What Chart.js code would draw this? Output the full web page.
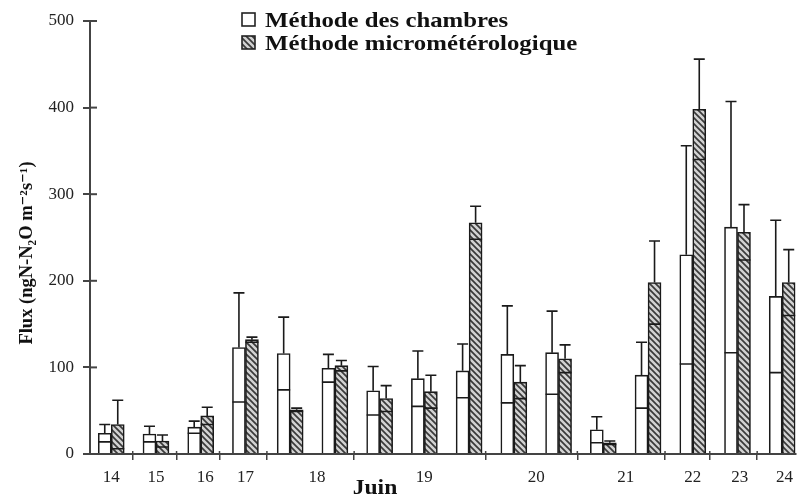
<!DOCTYPE html>
<html lang="fr">
<head>
<meta charset="utf-8">
<title>Flux de N2O - Juin</title>
<script src="https://cdn.jsdelivr.net/npm/chart.js@4.4.0/dist/chart.umd.min.js"></script>
<style>
    html, body { margin: 0; padding: 0; background: #fff; overflow: hidden; }
    #cadre { width: 798px; height: 498px; }
</style>
</head>
<body>
<div id="cadre"><canvas id="flux-chart" width="798" height="498"></canvas></div>
<script>
// indices des mesures (une paire de barres par mesure)
const mesures = [0, 1, 2, 3, 4, 5, 6, 7, 8, 9, 10, 11, 12, 13, 14, 15];

// méthode des chambres : moyenne et écart
const chambres    = [24, 23, 31, 123, 116, 99, 73, 87, 96, 115, 117, 28, 91, 230, 262, 182];
const chambresErr = [10, 9, 7, 63, 42, 16, 28, 32, 31, 56, 48, 15, 38, 126, 145, 88];

// méthode micrométéorologique : moyenne et écart
const micro    = [34, 15, 44, 132, 51, 102, 64, 72, 267, 83, 110, 13, 198, 398, 256, 198];
const microErr = [28, 7, 10, 3, 2, 6, 15, 19, 19, 19, 16, 2, 48, 58, 32, 38];

// jours de juin : étiquettes, centres et limites (en indice de mesure)
const jours        = ['14', '15', '16', '17', '18', '19', '20', '21', '22', '23', '24'];
const joursCentres = [0, 1, 2.1, 3, 4.6, 7, 9.5, 11.5, 13, 14.05, 15.05];
const joursLimites = [0.48, 1.46, 2.42, 3.48, 5.43, 8.37, 10.42, 12.38, 13.38, 14.44];

// graduations de l'axe des flux
const fluxTicks = [0, 100, 200, 300, 400, 500];

const titreX = 'Juin';
const titreY = 'Flux (ngN-N\u2082O m\u207B\u00B2s\u207B\u00B9)';
const serif = "'Liberation Serif', 'DejaVu Serif', serif";

// motif hachuré pour la méthode micrométéorologique
function creerHachures(ctx) {
    const tuile = document.createElement('canvas');
    tuile.width = 6;
    tuile.height = 6;
    const g = tuile.getContext('2d');
    g.fillStyle = '#d2d2d2';
    g.fillRect(0, 0, 6, 6);
    g.strokeStyle = '#3a3a3a';
    g.lineWidth = 1.7;
    g.beginPath();
    g.moveTo(-1, -1); g.lineTo(7, 7);
    g.moveTo(-1, 5); g.lineTo(1, 7);
    g.moveTo(5, -1); g.lineTo(7, 1);
    g.stroke();
    return ctx.createPattern(tuile, 'repeat');
}

// barres d'erreur : trait vers le haut avec chapeau, trait horizontal en bas
const barresErreur = {
    id: 'barresErreur',
    afterDatasetsDraw(chart) {
        const ctx = chart.ctx;
        const y = chart.scales.y;
        ctx.save();
        ctx.strokeStyle = '#1a1a1a';
        ctx.lineWidth = 1.6;
        chart.data.datasets.forEach((ds, i) => {
            const meta = chart.getDatasetMeta(i);
            meta.data.forEach((barre, j) => {
                const v = ds.data[j].y;
                const e = ds.erreurs[j];
                const yHaut = y.getPixelForValue(v + e);
                const yBas = y.getPixelForValue(Math.max(v - e, 0));
                const demi = barre.width / 2;
                ctx.beginPath();
                ctx.moveTo(barre.x, barre.y);
                ctx.lineTo(barre.x, yHaut);
                ctx.moveTo(barre.x - 5.5, yHaut);
                ctx.lineTo(barre.x + 5.5, yHaut);
                ctx.moveTo(barre.x - demi, yBas);
                ctx.lineTo(barre.x + demi, yBas);
                ctx.stroke();
            });
        });
        ctx.restore();
    }
};

// petites graduations vers l'intérieur
const graduationsInternes = {
    id: 'graduationsInternes',
    afterDraw(chart) {
        const { ctx, chartArea, scales } = chart;
        ctx.save();
        ctx.strokeStyle = '#444';
        ctx.lineWidth = 2;
        scales.y.ticks.forEach(t => {
            const py = scales.y.getPixelForValue(t.value);
            ctx.beginPath();
            ctx.moveTo(chartArea.left, py);
            ctx.lineTo(chartArea.left + 7, py);
            ctx.stroke();
        });
        ctx.lineWidth = 1.5;
        scales.x.ticks.forEach(t => {
            const px = scales.x.getPixelForValue(t.value);
            ctx.beginPath();
            ctx.moveTo(px, chartArea.bottom);
            ctx.lineTo(px, chartArea.bottom - 3);
            ctx.stroke();
        });
        ctx.restore();
    }
};

// légende sur deux lignes et titres des axes
const legendeEtTitres = {
    id: 'legendeEtTitres',
    afterDraw(chart) {
        const ctx = chart.ctx;
        ctx.save();
        chart.data.datasets.forEach((ds, i) => {
            const haut = 13 + i * 23;
            ctx.fillStyle = ds.backgroundColor;
            ctx.fillRect(242, haut, 13, 13);
            ctx.strokeStyle = '#222';
            ctx.lineWidth = 1.6;
            ctx.strokeRect(242, haut, 13, 13);
            ctx.save();
            ctx.translate(265, haut + 13);
            ctx.scale(1.18, 1);
            ctx.fillStyle = '#111';
            ctx.font = 'bold 21px ' + serif;
            ctx.textBaseline = 'alphabetic';
            ctx.fillText(ds.label, 0, 1);
            ctx.restore();
        });

        // titre de l'axe des jours
        ctx.save();
        ctx.translate(375, 494);
        ctx.scale(1.18, 1);
        ctx.fillStyle = '#111';
        ctx.font = 'bold 20px ' + serif;
        ctx.textAlign = 'center';
        ctx.fillText(titreX, 0, 0);
        ctx.restore();

        // titre de l'axe des flux
        ctx.save();
        ctx.translate(27, 253);
        ctx.rotate(-Math.PI / 2);
        ctx.fillStyle = '#111';
        ctx.font = 'bold 18.5px ' + serif;
        ctx.textAlign = 'center';
        ctx.textBaseline = 'middle';
        ctx.fillText(titreY, 0, 0);
        ctx.restore();
        ctx.restore();
    }
};

document.addEventListener('DOMContentLoaded', () => {
    const ctx = document.getElementById('flux-chart').getContext('2d');
    const hachures = creerHachures(ctx);

    new Chart(ctx, {
        type: 'bar',
        data: {
            datasets: [{
                label: 'Méthode des chambres',
                data: mesures.map((m, i) => ({ x: m, y: chambres[i] })),
                erreurs: chambresErr,
                backgroundColor: '#ffffff',
                borderColor: '#1a1a1a',
                borderWidth: 1.6,
                xAxisID: 'x'
            }, {
                label: 'Méthode micrométérologique',
                data: mesures.map((m, i) => ({ x: m, y: micro[i] })),
                erreurs: microErr,
                backgroundColor: hachures,
                borderColor: '#1a1a1a',
                borderWidth: 1.6,
                xAxisID: 'x'
            }]
        },
        options: {
            responsive: false,
            animation: false,
            barThickness: 13,
            layout: { padding: { top: 21, right: 0, left: 0, bottom: 0 } },
            plugins: {
                legend: { display: false },
                tooltip: { enabled: false }
            },
            scales: {
                x: {
                    type: 'linear',
                    axis: 'x',
                    position: 'bottom',
                    weight: 0,
                    min: -0.475,
                    max: 15.3,
                    offset: false,
                    afterBuildTicks: s => { s.ticks = joursLimites.map(v => ({ value: v })); },
                    ticks: { display: false },
                    grid: { offset: false, drawOnChartArea: false, tickLength: 6, color: '#444', lineWidth: 1.5 },
                    border: { color: '#444', width: 2 },
                    afterFit: s => { s.height = 8; }
                },
                jours: {
                    type: 'linear',
                    axis: 'x',
                    position: 'bottom',
                    weight: 1,
                    min: -0.475,
                    max: 15.3,
                    offset: false,
                    afterBuildTicks: s => { s.ticks = joursCentres.map(v => ({ value: v })); },
                    ticks: {
                        autoSkip: false,
                        maxRotation: 0,
                        padding: 5,
                        color: '#222',
                        font: { family: serif, size: 17 },
                        callback: (v, i) => jours[i]
                    },
                    grid: { display: false, drawTicks: false, tickLength: 0, offset: false },
                    border: { display: false },
                    afterFit: s => { s.height = 36; }
                },
                y: {
                    min: 0,
                    max: 500,
                    afterBuildTicks: s => { s.ticks = fluxTicks.map(v => ({ value: v })); },
                    ticks: {
                        padding: 9,
                        color: '#222',
                        font: { family: serif, size: 17 }
                    },
                    grid: { drawOnChartArea: false, tickLength: 7, color: '#444', lineWidth: 2 },
                    border: { color: '#444', width: 2 },
                    title: { display: false },
                    afterFit: s => { s.width = 90; }
                }
            }
        },
        plugins: [barresErreur, graduationsInternes, legendeEtTitres]
    });
});
</script>
</body>
</html>
